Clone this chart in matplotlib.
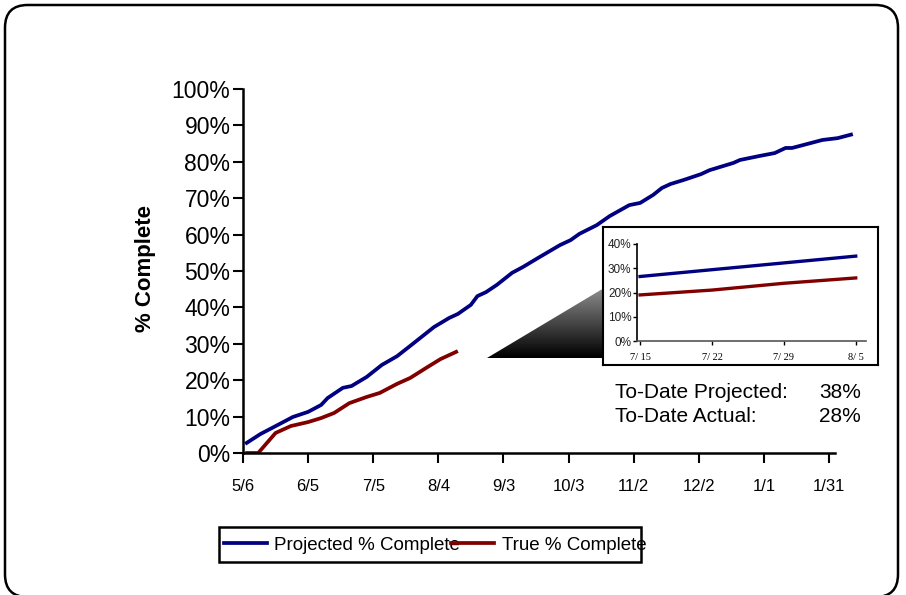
import matplotlib
matplotlib.use("Agg")
import matplotlib.pyplot as plt
from matplotlib.patches import FancyBboxPatch, Rectangle, Polygon
from matplotlib.lines import Line2D
import numpy as np

plt.rcParams['font.family'] = ['Liberation Sans', 'DejaVu Sans']

# days after 5/6
proj_days = [1, 8, 16, 23, 30, 36, 39, 46, 50, 57, 64, 71, 77, 88, 95, 99, 105, 108,
             112, 117, 124, 129, 136, 146, 151, 155, 163, 169, 178, 183, 189, 193, 197,
             203, 211, 215, 226, 229, 238, 245, 250, 253, 260, 267, 274, 281]
proj_pct = [2.5, 5.2, 7.7, 9.9, 11.3, 13.2, 15.1, 17.9, 18.4, 20.9, 24.2, 26.6, 29.4,
            34.6, 37.1, 38.2, 40.7, 43.1, 44.2, 46.2, 49.5, 51.1, 53.6, 57.1, 58.5, 60.2,
            62.6, 65.1, 68.1, 68.7, 70.9, 72.8, 73.9, 75.0, 76.6, 77.7, 79.7, 80.5, 81.6,
            82.4, 83.8, 83.8, 84.9, 86.0, 86.5, 87.6]
true_days = [1, 7, 15, 22, 30, 36, 42, 49, 57, 63, 71, 77, 85, 91, 99]
true_pct = [0, 0, 5.5, 7.4, 8.5, 9.6, 11.0, 13.7, 15.4, 16.5, 19.0, 20.6, 23.6, 25.8, 28.0]

tick_days = [0, 30, 60, 90, 120, 150, 180, 210, 240, 270]
tick_labels = ["5/6", "6/5", "7/5", "8/4", "9/3", "10/3", "11/2", "12/2", "1/1", "1/31"]
y_ticks = [0, 10, 20, 30, 40, 50, 60, 70, 80, 90, 100]

# zoomed inset, days after 7/15
inset_days = [0, 7, 14, 21]
inset_labels = ["7/ 15", "7/ 22", "7/ 29", "8/ 5"]
inset_proj = [26.6, 29.4, 32.2, 35.0]
inset_true = [19.0, 21.0, 23.8, 26.0]
inset_yticks = [0, 10, 20, 30, 40]

todate_proj = "38%"
todate_true = "28%"

blue = "#000080"
red = "#800000"

W, H = 906, 595
fig = plt.figure(figsize=(W / 100, H / 100), dpi=100)


def fx(x):
    return x / W


def fy(y):
    return 1 - y / H


# rounded outer frame
fig.patches.append(FancyBboxPatch((fx(5), fy(597)), fx(898) - fx(5), fy(5) - fy(597),
                                  boxstyle="round,pad=0,rounding_size=0.025",
                                  transform=fig.transFigure, fill=False,
                                  edgecolor="black", lw=1.8, mutation_aspect=W / H))

# main chart
ax = fig.add_axes([fx(243), fy(453), fx(855) - fx(243), fy(89) - fy(453)])
ax.plot(proj_days, proj_pct, color=blue, lw=2.7, solid_capstyle="butt")
ax.plot(true_days, true_pct, color=red, lw=2.7, solid_capstyle="butt")
ax.set_xlim(0, 282)
ax.set_ylim(0, 100)
ax.set_xticks(tick_days)
ax.set_xticklabels(tick_labels, fontsize=12)
ax.set_yticks(y_ticks)
ax.set_yticklabels([f"{v}%" for v in y_ticks], fontsize=16.5)
ax.tick_params(axis="x", direction="out", length=7, width=1.5, pad=12)
ax.tick_params(axis="y", direction="out", length=7, width=1.5, pad=2)
for s in ["top", "right"]:
    ax.spines[s].set_visible(False)
ax.spines["bottom"].set_linewidth(1.8)
ax.spines["left"].set_linewidth(1.8)
ax.spines["bottom"].set_bounds(0, 273)
ax.patch.set_alpha(0)

fig.text(fx(146), fy(268), "% Complete", rotation=90, fontsize=16, fontweight="bold",
         ha="center", va="center")

# gradient wedge pointing to the zoom box
gax = fig.add_axes([fx(487), fy(358), fx(604) - fx(487), fy(288) - fy(358)])
grad = np.linspace(0.55, 0.0, 64).reshape(-1, 1)
im = gax.imshow(grad, cmap="gray", vmin=0, vmax=1, aspect="auto",
                extent=[0, 1, 0, 1], origin="upper")
tri = Polygon([(0, 0), (1, 1), (1, 0)], closed=True, transform=gax.transData)
im.set_clip_path(tri)
gax.set_xlim(0, 1)
gax.set_ylim(0, 1)
gax.axis("off")

# zoom box
box = fig.add_axes([fx(603), fy(365), fx(878) - fx(603), fy(227) - fy(365)])
box.set_xticks([])
box.set_yticks([])
for s in box.spines.values():
    s.set_linewidth(1.5)

iax = fig.add_axes([fx(637), fy(341), fx(866) - fx(637), fy(244) - fy(341)])
iax.plot(inset_days, inset_proj, color=blue, lw=2.4)
iax.plot(inset_days, inset_true, color=red, lw=2.4)
iax.set_xlim(-0.3, 22)
iax.set_ylim(0, 40)
iax.set_xticks(inset_days)
iax.set_xticklabels(inset_labels, fontsize=7.5, family=["Liberation Serif"])
iax.set_yticks(inset_yticks)
iax.set_yticklabels([f"{v}%" for v in inset_yticks], fontsize=8.5, color="#222222")
iax.tick_params(axis="x", direction="out", length=3, width=1, pad=6)
iax.tick_params(axis="y", direction="out", length=3, width=1, pad=1)
for s in ["top", "right"]:
    iax.spines[s].set_visible(False)
iax.spines["bottom"].set_color("#555555")
iax.spines["bottom"].set_linewidth(1.2)
iax.spines["left"].set_linewidth(1.2)
iax.patch.set_alpha(0)

# to-date summary
fig.text(fx(615), fy(393), "To-Date Projected:", fontsize=15, va="center", ha="left")
fig.text(fx(861), fy(393), todate_proj, fontsize=15, va="center", ha="right")
fig.text(fx(615), fy(417), "To-Date Actual:", fontsize=15, va="center", ha="left")
fig.text(fx(861), fy(417), todate_true, fontsize=15, va="center", ha="right")

# legend
fig.patches.append(Rectangle((fx(219), fy(562)), fx(641) - fx(219), fy(527) - fy(562),
                             transform=fig.transFigure, fill=False, edgecolor="black",
                             lw=1.8, zorder=1))
handles = [Line2D([], [], color=blue, lw=2.7), Line2D([], [], color=red, lw=2.7)]
fig.legend(handles, ["Projected % Complete", "True % Complete"], ncol=2,
           loc="center left", bbox_to_anchor=(fx(220), fy(545)), frameon=False,
           fontsize=13.5, handlelength=2.3, handletextpad=0.4, columnspacing=-0.5,
           borderpad=0.2, borderaxespad=0)

fig.savefig("out.png", dpi=100)
